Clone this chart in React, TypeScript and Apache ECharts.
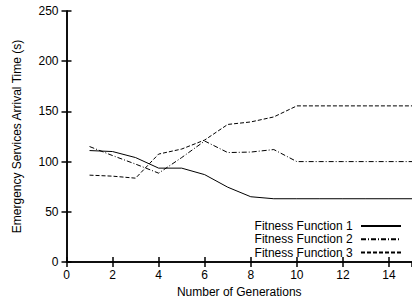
import React, { useEffect, useRef } from "react";
import * as echarts from "echarts";

const generations = [1, 2, 3, 4, 5, 6, 7, 8, 9, 10, 11, 12, 13, 14, 15];
const fitness1 = [111, 110, 104, 93.5, 93.5, 87, 74.5, 65, 63, 63, 63, 63, 63, 63, 63];
const fitness2 = [115, 106, 97.5, 88.5, 104, 120.5, 109, 109.5, 112, 100, 100, 100, 100, 100, 100];
const fitness3 = [86.5, 85.5, 83.5, 107.5, 112.5, 121.5, 137, 139.5, 144.5, 155.5, 155.5, 155.5, 155.5, 155.5, 155.5];
const seriesNames = ["Fitness Function 1", "Fitness Function 2", "Fitness Function 3"];
const xTitle = "Number of Generations";
const yTitle = "Emergency Services Arrival Time (s)";

const FONT = "'Liberation Sans', Arial, Helvetica, sans-serif";

export default function App() {
  const ref = useRef<HTMLDivElement>(null);
  useEffect(() => {
    if (!ref.current) return;
    const chart = echarts.init(ref.current, undefined, { renderer: "svg" });
    const pairs = (ys: number[]) => generations.map((x, i) => [x, ys[i]]);
    const axisLine = { show: true, lineStyle: { color: "#000", width: 1.5 } };
    const tick = { show: true, inside: true, length: 5, lineStyle: { color: "#000", width: 1.5 } };
    const lbl = { color: "#000", fontSize: 12, fontFamily: FONT };
    const dashes: any[] = ["solid", [5, 2, 1, 2], [4, 2]];
    const data = [fitness1, fitness2, fitness3];
    chart.setOption({
      animation: false,
      backgroundColor: "#fff",
      grid: { left: 66.5, top: 11, width: 350, height: 252.5, containLabel: false },
      legend: {
        orient: "vertical",
        right: 10,
        top: 220,
        padding: 0,
        align: "right",
        itemWidth: 40,
        itemHeight: 12,
        itemGap: 1.3,
        itemStyle: { opacity: 0 },
        formatter: (n: string) => n + " ",
        textStyle: { color: "#000", fontSize: 12, fontFamily: FONT },
        data: seriesNames,
      },
      xAxis: [
        {
          type: "value",
          min: 0,
          max: 15,
          interval: 2,
          position: "bottom",
          axisLine,
          axisTick: tick,
          splitLine: { show: false },
          axisLabel: { ...lbl, margin: 7, showMaxLabel: false },
          name: xTitle,
          nameLocation: "middle",
          nameGap: 24,
          nameTextStyle: { color: "#000", fontSize: 12, fontFamily: FONT },
        },
        {
          type: "value",
          min: 0,
          max: 15,
          interval: 2,
          position: "top",
          axisLine,
          axisTick: tick,
          splitLine: { show: false },
          axisLabel: { show: false },
        },
      ],
      yAxis: [
        {
          type: "value",
          min: 0,
          max: 250,
          interval: 50,
          position: "left",
          axisLine,
          axisTick: tick,
          splitLine: { show: false },
          axisLabel: { ...lbl, margin: 8 },
          name: yTitle,
          nameLocation: "middle",
          nameGap: 44,
          nameTextStyle: { color: "#000", fontSize: 12, fontFamily: FONT },
        },
        {
          type: "value",
          min: 0,
          max: 250,
          interval: 50,
          position: "right",
          axisLine,
          axisTick: tick,
          splitLine: { show: false },
          axisLabel: { show: false },
        },
      ],
      series: seriesNames.map((name, i) => ({
        name,
        type: "line",
        xAxisIndex: 0,
        yAxisIndex: 0,
        symbol: "none",
        showSymbol: false,
        data: pairs(data[i]),
        lineStyle: { color: "#000", width: 1, type: dashes[i] },
        itemStyle: { color: "#000" },
      })),
    });
    return () => chart.dispose();
  }, []);
  return (
    <div
      ref={ref}
      style={{ position: "fixed", left: 0, top: 0, width: 412, height: 303, background: "#fff" }}
    />
  );
}
